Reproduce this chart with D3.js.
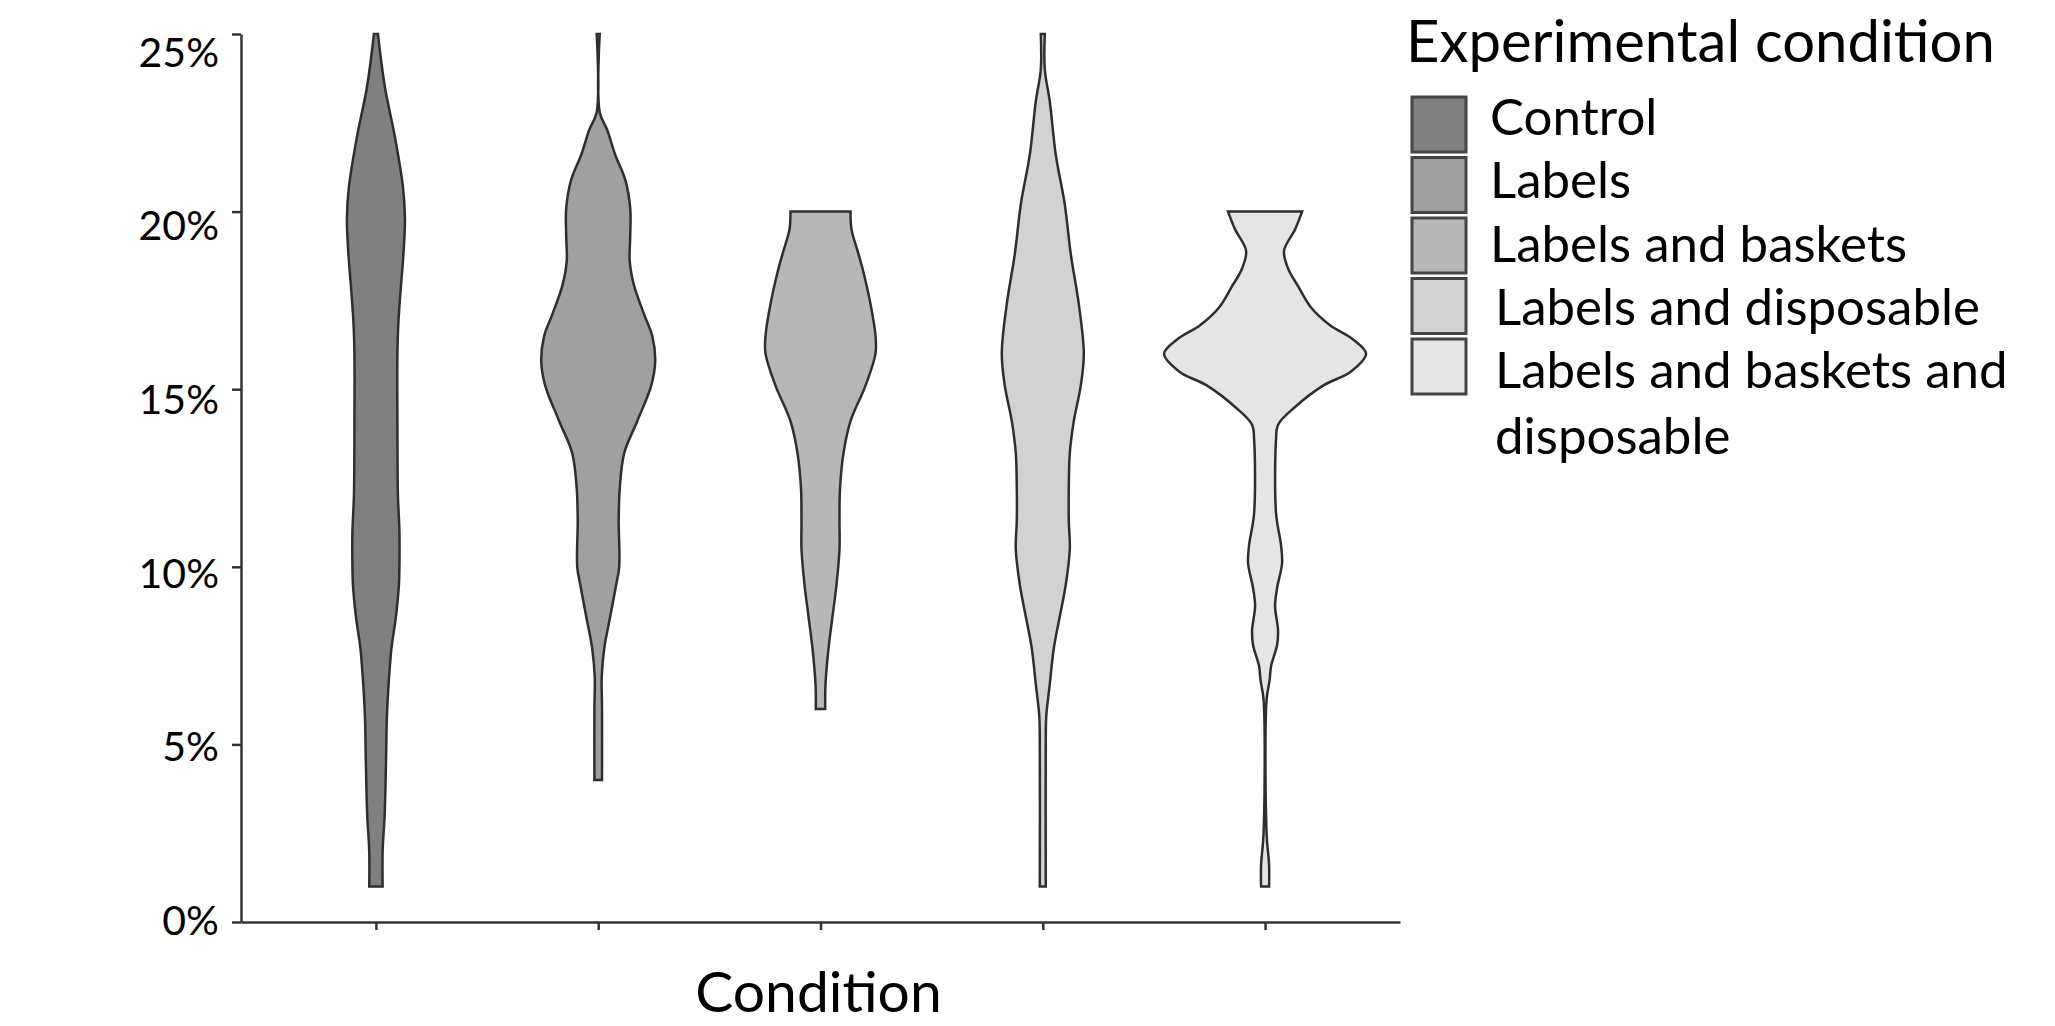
<!DOCTYPE html>
<html>
<head>
<meta charset="utf-8">
<script src="https://cdn.jsdelivr.net/npm/d3@7"></script>
<style>
  body { margin: 0; background: #fff; }
  text { font-family: Lato, "Open Sans", sans-serif; fill: #000; }
</style>
</head>
<body>
<script>
var categories = ["Control", "Labels", "Labels and baskets", "Labels and disposable", "Labels and baskets and disposable"];
var fills = ["#808080", "#a0a0a0", "#b7b7b7", "#d2d2d2", "#e5e5e5"];
var yTicks = [0, 5, 10, 15, 20, 25];
var yTickLabels = ["0%", "5%", "10%", "15%", "20%", "25%"];

// violin outlines: percentage value and relative density (half width) at that value
var controlPct = [25, 23.5, 22.1, 20.7, 19.8, 18.8, 17.9, 16.9, 16, 14, 12, 11, 10, 9.5, 8.6, 7.7, 6.7, 5.8, 4.4, 3.0, 2.0, 1];
var controlDen = [0.02, 0.09, 0.19, 0.27, 0.29, 0.275, 0.25, 0.225, 0.215, 0.215, 0.22, 0.235, 0.235, 0.23, 0.20, 0.155, 0.127, 0.11, 0.10, 0.087, 0.067, 0.067];

var labelsPct = [25, 22.8, 22.3, 21.6, 20.9, 20.1, 19.3, 18.6, 17.9, 17.1, 16.5, 15.8, 15.1, 14.1, 13.2, 12.2, 11.3, 10.0, 9.5, 8.6, 7.7, 6.9, 6.0, 4];
var labelsDen = [0.015, 0.015, 0.09, 0.17, 0.27, 0.32, 0.32, 0.315, 0.36, 0.46, 0.54, 0.57, 0.53, 0.39, 0.26, 0.215, 0.205, 0.21, 0.18, 0.12, 0.06, 0.035, 0.038, 0.038];

var basketsPct = [20, 19.5, 18.9, 18.4, 17.4, 16.5, 16.0, 15.1, 14.1, 13.2, 12.2, 11.3, 10.5, 9.5, 8.6, 7.7, 6.7, 6];
var basketsDen = [0.30, 0.31, 0.37, 0.42, 0.50, 0.55, 0.55, 0.45, 0.30, 0.23, 0.195, 0.19, 0.19, 0.16, 0.12, 0.08, 0.05, 0.047];

var disposablePct = [25, 24.0, 23.1, 21.6, 20.2, 18.8, 17.4, 16.0, 15.1, 14.1, 13.2, 12.2, 11.3, 10.5, 9.5, 8.6, 7.7, 6.7, 5.8, 5.1, 1];
var disposableDen = [0.02, 0.02, 0.07, 0.13, 0.22, 0.28, 0.36, 0.41, 0.38, 0.31, 0.27, 0.26, 0.26, 0.27, 0.23, 0.17, 0.11, 0.07, 0.035, 0.03, 0.03];

var allPct = [20, 19.5, 18.9, 18.4, 17.9, 17.3, 16.8, 16.4, 16.0, 15.5, 15.1, 14.5, 14.0, 13.6, 11.5, 10.6, 10.1, 9.4, 8.9, 8.2, 7.8, 7.2, 6.8, 6.25, 2.5, 1.6, 1.0];
var allDen = [0.37, 0.30, 0.19, 0.23, 0.33, 0.46, 0.65, 0.88, 1.01, 0.86, 0.58, 0.30, 0.13, 0.11, 0.11, 0.16, 0.17, 0.12, 0.10, 0.13, 0.12, 0.06, 0.045, 0.015, 0.015, 0.04, 0.04];

var violins = [
    { pct: controlPct, den: controlDen },
    { pct: labelsPct, den: labelsDen },
    { pct: basketsPct, den: basketsDen },
    { pct: disposablePct, den: disposableDen },
    { pct: allPct, den: allDen }
];

var width = 2055,
    height = 1026;

var svg = d3.select("body")
    .append("svg")
    .attr("width", width)
    .attr("height", height);

var y = d3.scaleLinear().domain([0, 25]).range([922, 34]);
// the printed labels sit on a slightly tighter spacing than the ticks
var yLab = d3.scaleLinear().domain([0, 25]).range([920, 52]);
var x = d3.scalePoint().domain(categories).range([241, 1400]).padding(0.607);
var w = d3.scaleLinear().domain([0, 1]).range([0, 100]);

// violins
violins.forEach(function (v, i) {
    var pts = v.pct.map(function (p, j) { return { p: p, d: v.den[j] }; });
    var cx = x(categories[i]);
    var area = d3.area()
        .y(function (d) { return y(d.p); })
        .x0(function (d) { return cx - w(d.d); })
        .x1(function (d) { return cx + w(d.d); })
        .curve(d3.curveCatmullRom.alpha(0.5));
    svg.append("path")
        .datum(pts)
        .attr("d", area)
        .style("fill", fills[i])
        .style("stroke", "#2e2e2e")
        .style("stroke-width", 2.5);
});

// axes
var yAxis = svg.append("g")
    .attr("transform", "translate(241,0)")
    .call(d3.axisLeft(y).tickValues(yTicks).tickSize(9).tickSizeOuter(0).tickFormat(""));
var xAxis = svg.append("g")
    .attr("transform", "translate(0,922)")
    .call(d3.axisBottom(x).tickSize(8).tickSizeOuter(0).tickFormat(""));
svg.selectAll(".domain, .tick line")
    .style("stroke", "#333")
    .style("stroke-width", 2.5);

svg.append("g").selectAll("text")
    .data(yTicks)
    .enter()
    .append("text")
    .attr("x", 219)
    .attr("y", function (d) { return yLab(d); })
    .attr("dy", "0.36em")
    .attr("text-anchor", "end")
    .style("font-size", "41px")
    .text(function (d, i) { return yTickLabels[i]; });

svg.append("text")
    .attr("x", x(categories[2]) - 2)
    .attr("y", 1012)
    .attr("text-anchor", "middle")
    .style("font-size", "57px")
    .text("Condition");

// legend
var legend = svg.append("g");
legend.append("text")
    .attr("x", 1406)
    .attr("y", 62)
    .style("font-size", "58px")
    .text("Experimental condition");

legend.selectAll("rect")
    .data(categories)
    .enter()
    .append("rect")
    .attr("x", 1412)
    .attr("y", function (d, i) { return 97 + i * 60.5; })
    .attr("width", 54)
    .attr("height", 55)
    .style("fill", function (d, i) { return fills[i]; })
    .style("stroke", "#444")
    .style("stroke-width", 3);

var legendLines = [["Control"], ["Labels"], ["Labels and baskets"], ["Labels and disposable"], ["Labels and baskets and", "disposable"]];
legendLines.forEach(function (lines, i) {
    var lx = i < 3 ? 1490 : 1495;
    var t = legend.append("text")
        .attr("x", lx)
        .attr("y", 135 + i * 63.3)
        .style("font-size", "51px");
    lines.forEach(function (line, k) {
        t.append("tspan")
            .attr("x", lx)
            .attr("dy", k === 0 ? 0 : 66)
            .text(line);
    });
});
</script>
</body>
</html>
